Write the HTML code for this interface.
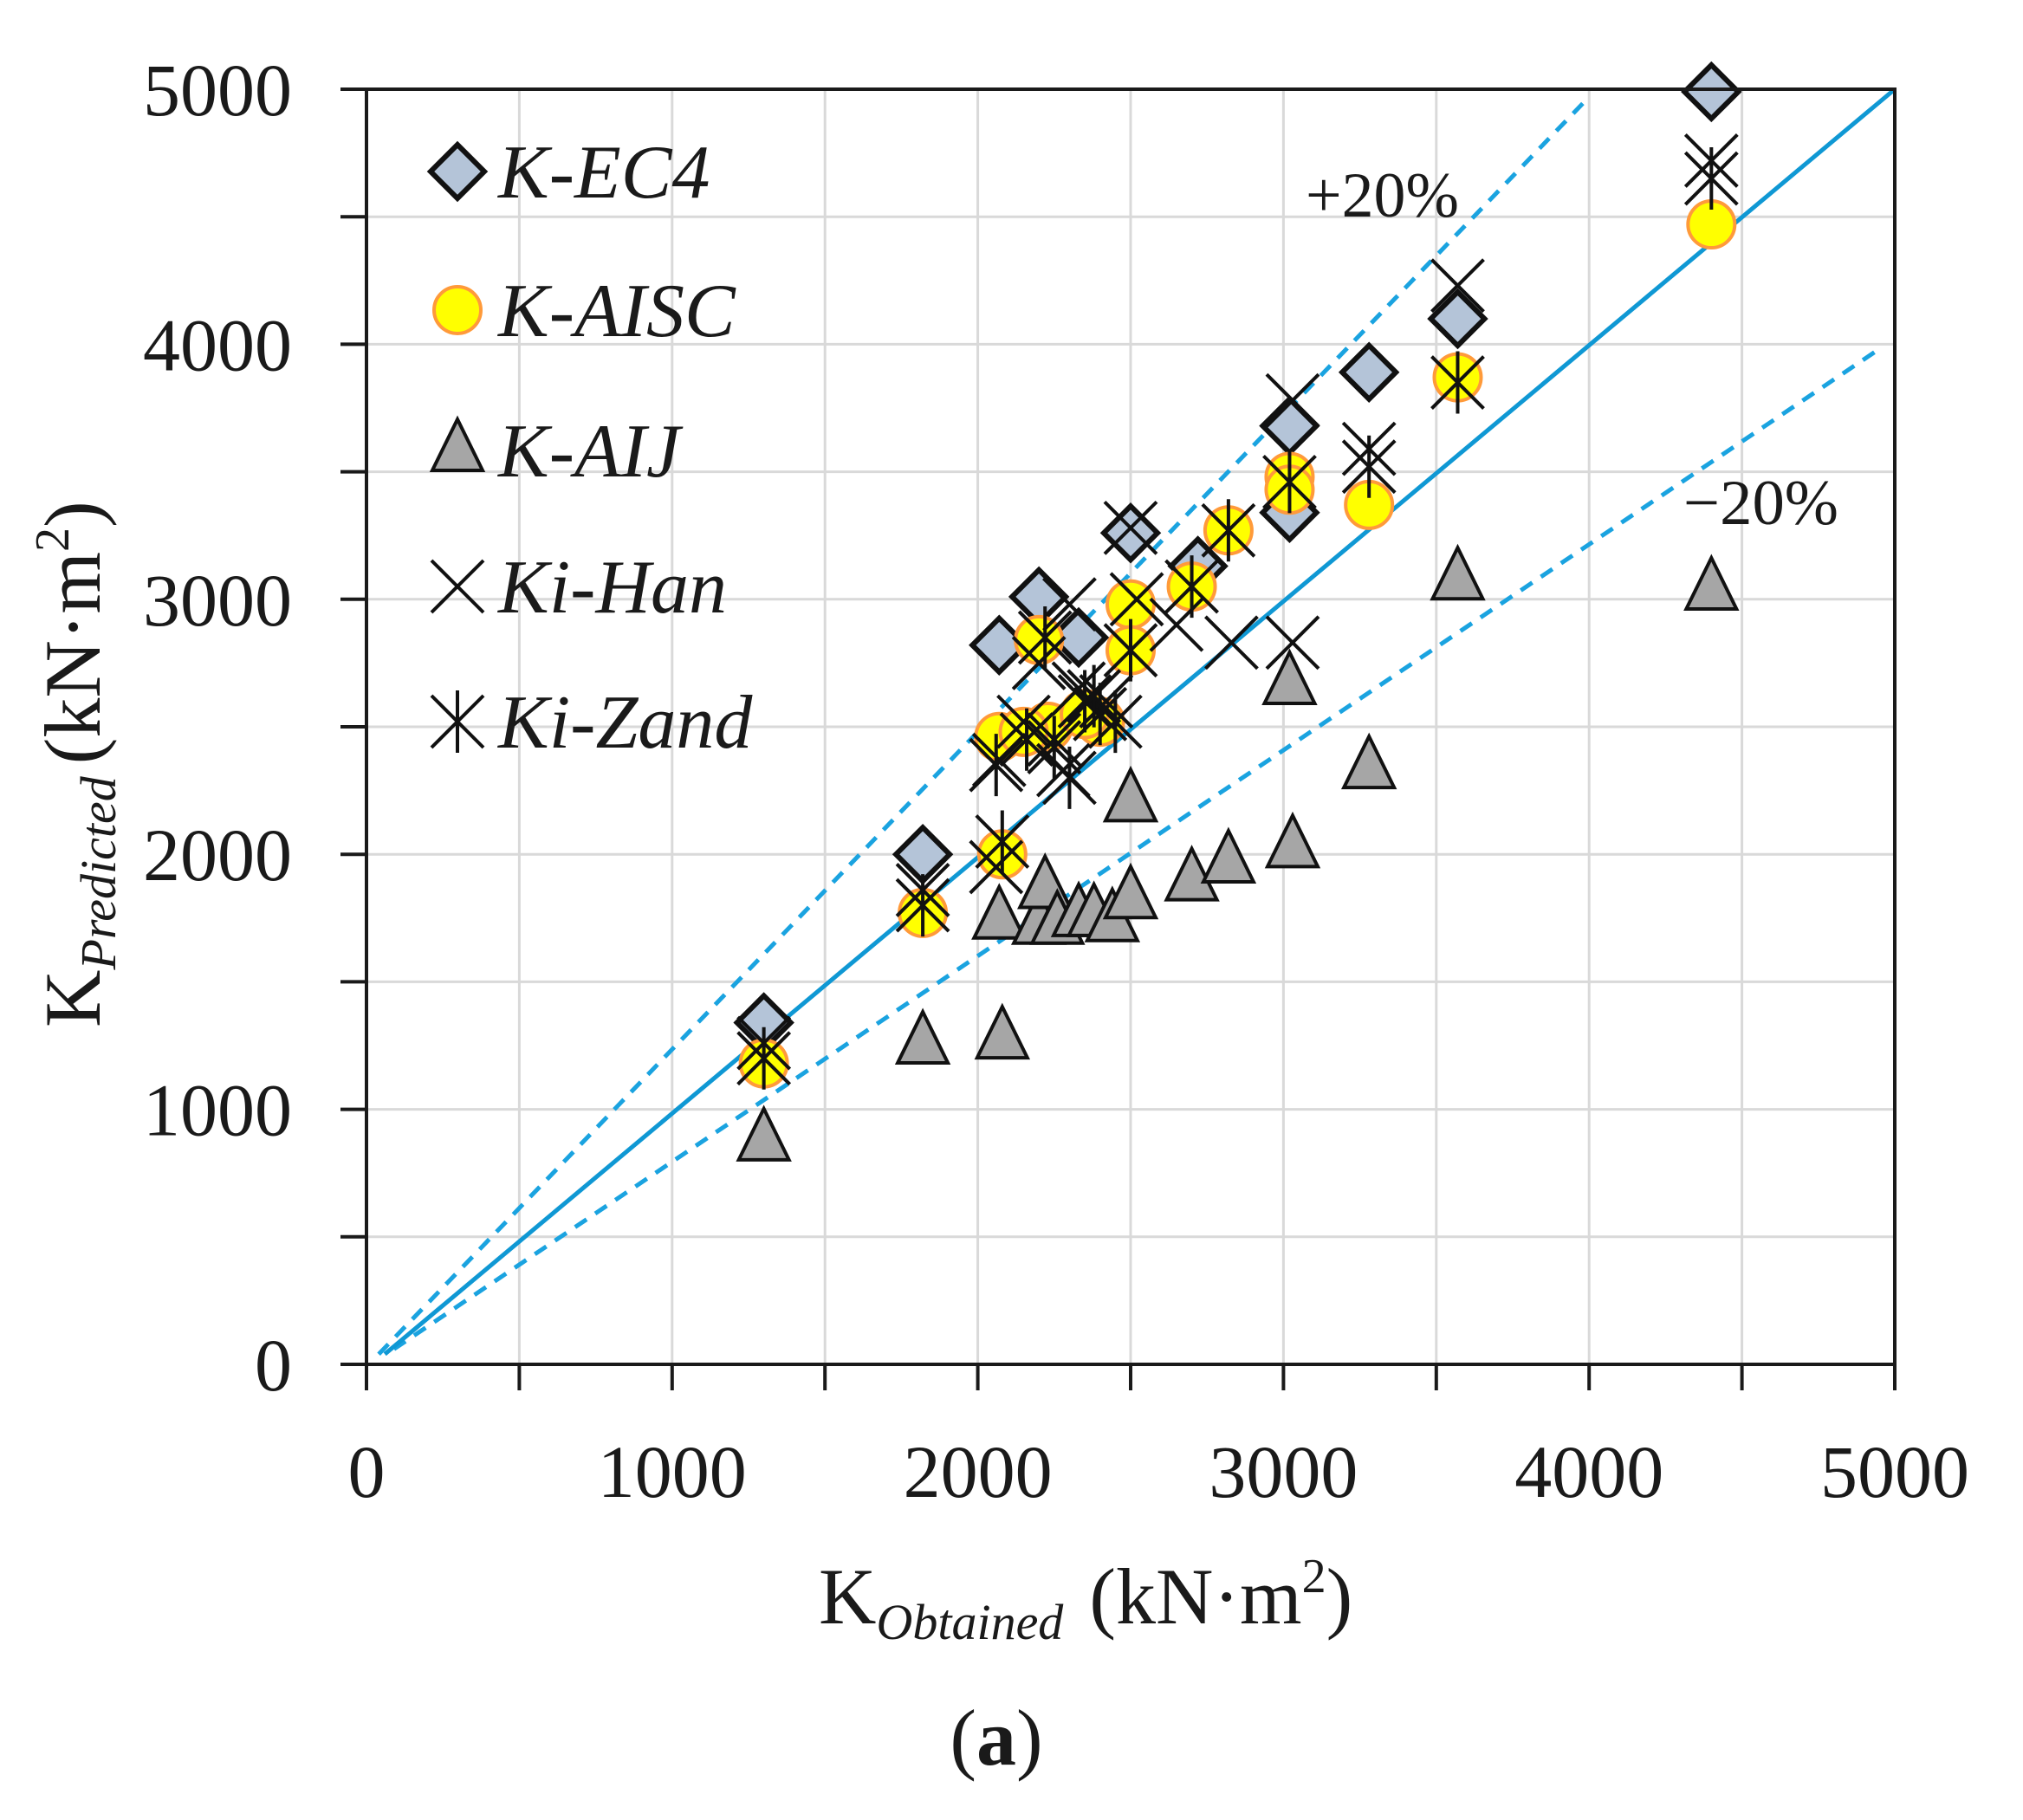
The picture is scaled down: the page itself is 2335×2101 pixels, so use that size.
<!DOCTYPE html>
<html><head><meta charset="utf-8">
<style>
html,body{margin:0;padding:0;background:#fff;}
svg{display:block;}
text{font-family:"Liberation Serif",serif;fill:#1a1a1a;}
</style></head>
<body>
<svg id="s" width="2335" height="2101" viewBox="0 0 2335 2101" xmlns="http://www.w3.org/2000/svg">
<rect width="2335" height="2101" fill="#fff"/>
<g id="grid" stroke="#d9d9d9" stroke-width="3"></g>
<g id="lines"></g>
<g id="pts"></g>
<g id="axes" stroke="#1a1a1a" stroke-width="4" fill="none"></g>
<g id="labels"></g>

<g id="legend"></g>
<text x="1507" y="250" font-size="74" textLength="177" lengthAdjust="spacingAndGlyphs">+20%</text>
<text x="1943" y="605" font-size="74" textLength="179" lengthAdjust="spacingAndGlyphs">−20%</text>

<text x="945" y="1874" font-size="92"><tspan>K</tspan><tspan font-style="italic" font-size="58" dy="18">Obtained</tspan><tspan dy="-18" dx="30">(kN·m</tspan><tspan font-size="56" dy="-36">2</tspan><tspan dy="36">)</tspan></text>
<text transform="translate(115,1186) rotate(-90)" font-size="92"><tspan>K</tspan><tspan font-style="italic" font-size="58" dy="18">Predicted</tspan><tspan dy="-18" dx="14">(kN·m</tspan><tspan font-size="56" dy="-36">2</tspan><tspan dy="36">)</tspan></text>
<text x="1150" y="2037" font-size="92" text-anchor="middle">(<tspan font-weight="bold">a</tspan>)</text>
</svg>
<script>
const NS="http://www.w3.org/2000/svg";
const X=v=>423+v*1764/5000, Y=v=>1575-v*1472/5000;
function el(p,t,a){const e=document.createElementNS(NS,t);for(const k in a)e.setAttribute(k,a[k]);p.appendChild(e);return e;}
const g=document.getElementById('grid'),ax=document.getElementById('axes'),lb=document.getElementById('labels');
for(let v=500;v<5000;v+=500){
 el(g,'line',{x1:X(v),y1:Y(0),x2:X(v),y2:Y(5000)});
 el(g,'line',{x1:X(0),y1:Y(v),x2:X(5000),y2:Y(v)});
}
for(let v=0;v<=5000;v+=500){
 el(ax,'line',{x1:X(0)-30,y1:Y(v),x2:X(0),y2:Y(v)});
 el(ax,'line',{x1:X(v),y1:Y(0),x2:X(v),y2:Y(0)+30});
}
el(ax,'rect',{x:X(0),y:Y(5000),width:X(5000)-X(0),height:Y(0)-Y(5000)});
for(let v=0;v<=5000;v+=1000){
 const t=el(lb,'text',{x:337,y:Y(v)+30,'font-size':86,'text-anchor':'end'});t.textContent=v;
 const u=el(lb,'text',{x:X(v),y:1728,'font-size':86,'text-anchor':'middle'});u.textContent=v;
}
const L=document.getElementById('lines');
el(L,'line',{x1:X(40),y1:Y(40),x2:X(4000),y2:Y(4970),stroke:'#1aa3e0','stroke-width':5,'stroke-dasharray':'16 12'});
el(L,'line',{x1:X(90),y1:Y(60),x2:X(4960),y2:Y(3990),stroke:'#1aa3e0','stroke-width':5,'stroke-dasharray':'16 12'});
el(L,'line',{x1:X(60),y1:Y(40),x2:X(5000),y2:Y(5000),stroke:'#0f98d4','stroke-width':5});

const P=document.getElementById('pts');
function diamond(p,cx,cy){el(p,'polygon',{points:`${cx},${cy-31} ${cx+31},${cy} ${cx},${cy+31} ${cx-31},${cy}`,fill:'#b4c4d8',stroke:'#111','stroke-width':6,'stroke-linejoin':'miter'});}
function circ(p,cx,cy){el(p,'circle',{cx,cy,r:27,fill:'#ffff00',stroke:'#ff9a3a','stroke-width':4});}
function tri(p,cx,cy){el(p,'polygon',{points:`${cx},${cy-36} ${cx+29},${cy+23} ${cx-29},${cy+23}`,fill:'#a6a6a6',stroke:'#111','stroke-width':4});}
function xm(p,cx,cy){el(p,'path',{d:`M${cx-30},${cy-30}L${cx+30},${cy+30}M${cx+30},${cy-30}L${cx-30},${cy+30}`,stroke:'#111','stroke-width':4,fill:'none'});}
function ast(p,cx,cy){el(p,'path',{d:`M${cx-30},${cy-30}L${cx+30},${cy+30}M${cx+30},${cy-30}L${cx-30},${cy+30}M${cx},${cy-36}L${cx},${cy+36}`,stroke:'#111','stroke-width':4,fill:'none'});}
const EC4=[[1300,1340],[1820,2000],[2070,2820],[2200,3010],[2330,2850],[2500,3260],[2720,3130],[3020,3680],[3020,3340],[3280,3890],[3570,4100],[4400,4990]];
const AISC=[[1300,1180],[1820,1770],[2070,2460],[2080,2000],[2200,2840],[2230,2500],[2400,2520],[2500,2980],[2500,2800],[2700,3050],[2820,3270],[3020,3480],[3020,3430],[3280,3370],[3570,3870],[4400,4470],[2350,2550],[2150,2480]];
const AIJ=[[1300,880],[1820,1260],[2080,1280],[2070,1750],[2200,1730],[2220,1870],[2260,1730],[2330,1760],[2380,1760],[2440,1740],[2500,1830],[2500,2210],[2700,1900],[2820,1970],[3030,2030],[3020,2670],[3280,2340],[3570,3080],[4400,3040]];
const HAN=[[1300,1260],[1820,1860],[2060,1950],[2070,2370],[2150,2520],[2200,2750],[2300,2980],[2330,2650],[2420,2600],[2500,3280],[2520,3000],[2650,2900],[2830,2830],[3030,3780],[3030,2830],[3280,3590],[3570,4230],[4400,4720],[2250,2450],[2280,2330]];
const ZAND=[[1300,1200],[1820,1800],[2080,2050],[2060,2350],[2160,2450],[2250,2420],[2300,2300],[2350,2600],[2400,2550],[2500,2800],[2700,3050],[2820,3270],[3020,3460],[3280,3520],[3570,3850],[4400,4650],[2220,2850],[2450,2520],[2380,2620]];
EC4.forEach(d=>diamond(P,X(d[0]),Y(d[1])));
AIJ.forEach(d=>tri(P,X(d[0]),Y(d[1])));
AISC.forEach(d=>circ(P,X(d[0]),Y(d[1])));
HAN.forEach(d=>xm(P,X(d[0]),Y(d[1])));
ZAND.forEach(d=>ast(P,X(d[0]),Y(d[1])));

const LG=document.getElementById('legend');
const rows=[['K-EC4',diamond,198],['K-AISC',circ,358],['K-AIJ',tri,520],['Ki-Han',xm,677],['Ki-Zand',ast,833]];
rows.forEach(r=>{
 r[1](LG,528,r[2]);
 const t=el(LG,'text',{x:575,y:r[2]+30,'font-size':88,'font-style':'italic'});t.textContent=r[0];
});
</script>
</body></html>
